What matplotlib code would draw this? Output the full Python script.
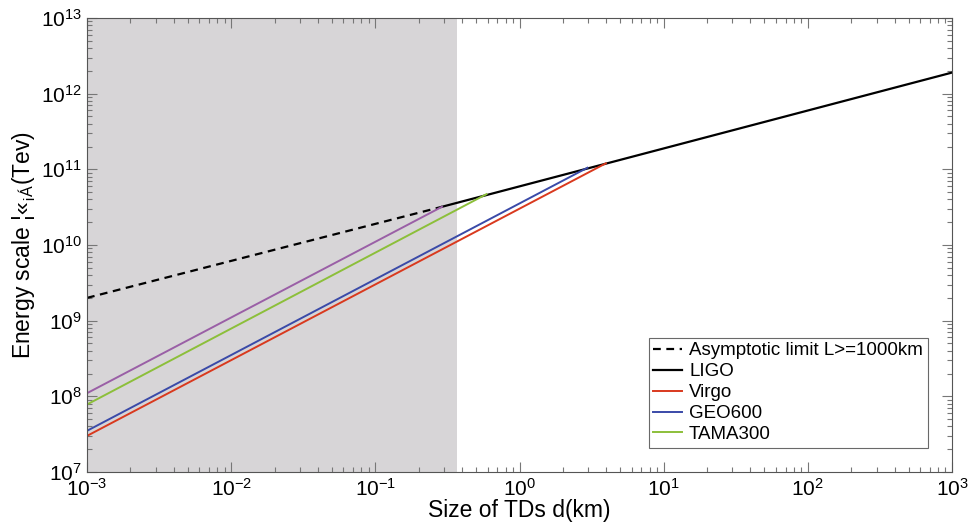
import matplotlib
matplotlib.use('Agg')
import matplotlib.pyplot as plt
import numpy as np

plt.rcParams['font.family'] = ['Liberation Sans', 'DejaVu Sans']
plt.rcParams['mathtext.fontset'] = 'custom'
plt.rcParams['mathtext.rm'] = 'Liberation Sans'
plt.rcParams['mathtext.it'] = 'Liberation Sans'

# endpoints (d in km, energy in TeV)
limit_d = [1e-3, 0.29]
limit_e = [2.0e9, 3.2e10]
ligo_d = [0.29, 1e3]
ligo_e = [3.2e10, 1.9e12]
virgo_d = [1e-3, 3.97]
virgo_e = [3.0e7, 1.2e11]
geo_d = [1e-3, 2.96]
geo_e = [3.5e7, 1.05e11]
tama_d = [1e-3, 0.59]
tama_e = [7.8e7, 4.7e10]
extra_d = [1e-3, 0.29]
extra_e = [1.1e8, 3.2e10]
shade_max = 0.37

fig = plt.figure(figsize=(9.72, 5.28), dpi=100)
ax = fig.add_axes([87/972, 1 - 472/528, 865/972, 454/528])

ax.axvspan(1e-3, shade_max, color='#d7d5d7', zorder=0, lw=0)

ax.plot(limit_d, limit_e, 'k--', lw=1.6, dashes=(3.5, 2.5),
        label='Asymptotic limit L>=1000km')
ax.plot(ligo_d, ligo_e, color='black', lw=1.6, label='LIGO')
ax.plot(virgo_d, virgo_e, color='#d9391e', lw=1.4, label='Virgo')
ax.plot(geo_d, geo_e, color='#3a4aa8', lw=1.4, label='GEO600')
ax.plot(tama_d, tama_e, color='#8cbf3a', lw=1.4, label='TAMA300')
ax.plot(extra_d, extra_e, color='#9a5fa6', lw=1.4)

ax.set_xscale('log')
ax.set_yscale('log')
ax.set_xlim(1e-3, 1e3)
ax.set_ylim(1e7, 1e13)

ax.tick_params(which='both', direction='in', top=True, right=True,
               color='#777777', labelsize=15)
ax.tick_params(which='major', length=7, width=0.8)
ax.tick_params(which='minor', length=3.5, width=0.8)
ax.tick_params(axis='x', pad=4)
for s in ax.spines.values():
    s.set_color('#555555')
    s.set_linewidth(0.8)

ax.set_xlabel('Size of TDs d(km)', fontsize=16.5, labelpad=0)
ax.set_ylabel('Energy scale ¦«$_{\\mathrm{¡Á}}$(Tev)', fontsize=16.5, labelpad=2)

leg = ax.legend(loc='lower right', fontsize=13.5, frameon=True, fancybox=False,
                borderaxespad=1.3, handlelength=1.5, labelspacing=0.2,
                borderpad=0.25, handletextpad=0.4)
leg.get_frame().set_edgecolor('#444444')
leg.get_frame().set_linewidth(0.8)

fig.savefig('out.png', dpi=100)
